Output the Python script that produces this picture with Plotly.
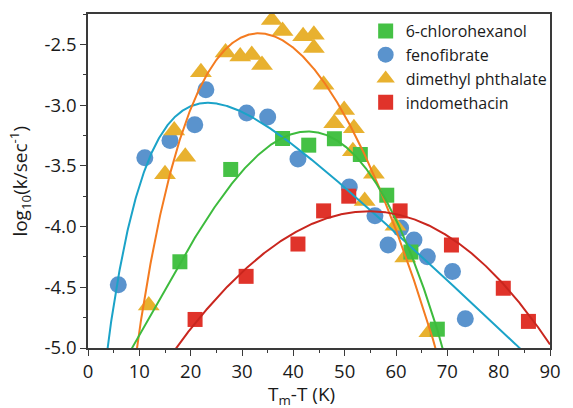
import numpy as np
import plotly.graph_objects as go

# Measured nucleation rates, log10(k / s^-1) versus undercooling Tm - T (K)
chloro_x = [17.9, 27.8, 37.9, 43.0, 48.0, 53.05, 58.2, 62.9, 68.05]
chloro_y = [-4.29, -3.53, -3.275, -3.33, -3.277, -3.407, -3.742, -4.21, -4.845]

feno_x = [5.9, 11.07, 15.97, 20.8, 22.96, 30.9, 35.0, 40.9, 50.9, 55.9, 58.46, 60.9, 63.5, 66.1, 71.0, 73.5]
feno_y = [-4.48, -3.434, -3.292, -3.161, -2.874, -3.066, -3.098, -3.443, -3.675, -3.912, -4.152, -4.013,
          -4.111, -4.248, -4.371, -4.759]

dmp_x = [11.83, 15.0, 16.8, 18.95, 22.0, 26.8, 29.65, 31.9, 33.9, 35.8, 37.9, 41.9, 44.0, 44.0, 45.9, 47.96,
         49.9, 51.8, 51.6, 53.9, 55.7, 59.9, 61.8, 66.5]
dmp_y = [-4.65, -3.57, -3.21, -3.426, -2.73, -2.566, -2.60, -2.587, -2.669, -2.30, -2.39, -2.434, -2.42, -2.53,
         -2.833, -3.15, -3.04, -3.19, -3.38, -3.79, -3.565, -3.994, -4.254, -4.87]

indo_x = [20.86, 30.8, 40.9, 45.9, 50.8, 60.8, 70.8, 80.9, 85.8]
indo_y = [-4.765, -4.41, -4.144, -3.871, -3.75, -3.871, -4.152, -4.508, -4.781]

# Fitted rate curves: y = a + b1*x + b2*x^2 - B*exp(-x/lam)
fit_chloro = [-23.71529, 0.512207, -0.0041645, -18.13656, 39.9]
fit_feno = [-1.80713, -0.035891, -0.0000248, 4.72593, 8.70]
fit_dmp = [-3.24937, 0.088910, -0.0016930, 6.15791, 10.30]
fit_indo = [-7.87493, 0.119187, -0.0009881, -1.72417, 39.9]

x_ticks = [0, 10, 20, 30, 40, 50, 60, 70, 80, 90]
y_ticks = [-5.0, -4.5, -4.0, -3.5, -3.0, -2.5]
y_tick_text = ["-5.0", "-4.5", "-4.0", "-3.5", "-3.0", "-2.5"]

series = [
    # name, x, y, fit, symbol, size, marker colour, line colour, legend rank
    ("fenofibrate", feno_x, feno_y, fit_feno, "circle", 17, "#5a93cd", "#1ba3c8", 2),
    ("dimethyl phthalate", dmp_x, dmp_y, fit_dmp, "triangle-up", 19, "#e8b12f", "#f47b20", 3),
    ("6-chlorohexanol", chloro_x, chloro_y, fit_chloro, "square", 15, "#45c145", "#3dbb3d", 1),
    ("indomethacin", indo_x, indo_y, fit_indo, "square", 15, "#e0332a", "#c9261e", 4),
]


def model(p, x):
    a, b1, b2, big_b, lam = p
    return a + b1 * x + b2 * x ** 2 - big_b * np.exp(-x / lam)


fig = go.Figure()
for name, xs, ys, fit, sym, size, mcol, _, rank in series:
    fig.add_trace(go.Scatter(
        x=xs, y=ys, mode="markers", name=name, legendrank=rank,
        marker=dict(symbol=sym, size=size, color=mcol, line=dict(width=0)),
    ))

xx = np.linspace(0.5, 90, 900)
for name, xs, ys, fit, sym, size, mcol, lcol, rank in series:
    fig.add_trace(go.Scatter(
        x=xx, y=model(fit, xx), mode="lines", showlegend=False, hoverinfo="skip",
        line=dict(color=lcol, width=2),
    ))

axis_common = dict(
    showline=True, linecolor="#3a3a3a", linewidth=1.5, mirror=True,
    ticks="outside", ticklen=6, tickwidth=1.2, tickcolor="#3a3a3a",
    showgrid=False, zeroline=False,
    tickfont=dict(family="Open Sans", size=18.5, color="#1a1a1a"),
)

fig.update_layout(
    width=573, height=408,
    margin=dict(l=88, r=14, t=12, b=60),
    plot_bgcolor="white", paper_bgcolor="white",
    xaxis=dict(range=[0, 90], tickvals=x_ticks,
               minor=dict(dtick=5, ticks="outside", ticklen=3, tickwidth=1.2, tickcolor="#3a3a3a"),
               **axis_common),
    yaxis=dict(range=[-5, -2.25], tickvals=y_ticks, ticktext=y_tick_text,
               minor=dict(dtick=0.25, ticks="outside", ticklen=3, tickwidth=1.2, tickcolor="#3a3a3a"),
               **axis_common),
    legend=dict(x=0.601, y=1, xanchor="left", yanchor="top", bgcolor="rgba(0,0,0,0)",
                font=dict(family="Open Sans", size=16, color="#1a1a1a")),
    showlegend=True,
)

fig.add_annotation(text="log<sub>10</sub>(k/sec<sup>-1</sup>)", xref="paper", yref="paper",
                   x=-0.148, y=0.5, xanchor="center", yanchor="middle", textangle=-90, showarrow=False,
                   font=dict(family="Open Sans", size=19, color="#1a1a1a"))
fig.add_annotation(text="T<sub>m</sub>-T (K)", xref="paper", yref="paper",
                   x=0.463, y=-0.142, xanchor="center", yanchor="middle", showarrow=False,
                   font=dict(family="Open Sans", size=19, color="#1a1a1a"))

fig.write_html("out.html")
